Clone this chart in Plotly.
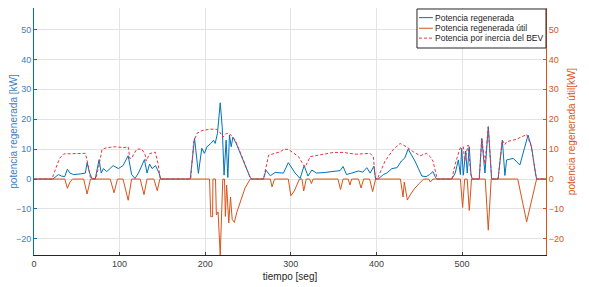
import plotly.graph_objects as go

# ---------------- data ----------------
t_reg = [0, 22, 28.5, 32, 36, 39, 42, 46, 54, 60, 62, 65, 68,
         71.5, 76, 78.5, 81, 85, 92.5, 98.5, 104, 110, 114, 118, 122, 129, 132, 135, 138, 142, 146, 148,
         182.5, 187.5, 192, 196, 199, 202, 206.6, 209.7, 211.6, 214.3, 217.5, 219.8, 222, 224.4, 226.4,
         228.3, 230.3, 232.3, 236.2, 240.8, 246.7, 252.5, 255,
         268, 271, 276, 281.7, 291.4, 297, 303, 305, 310.8, 315.5, 320, 324.5, 330, 334, 340, 348,
         357.5, 361, 365, 371, 379, 384, 388.7, 392.6, 397, 399,
         402, 408, 412, 418, 424, 429, 433, 437, 441, 445, 449, 453, 458, 462, 466, 469, 471,
         488, 492, 495.6, 498, 499.5, 501.4, 504.2, 506, 508.4, 510.4, 512,
         520, 523, 526.7, 530.6, 534.5, 542, 547, 550, 552, 559.7, 563, 567.5, 577, 581, 585.7, 587, 598]
p_reg = [0, 0, 1.5, 1, 0.8, 3.3, 2, 1.5, 1.7, 2, 5.5, 2, 0,
         0, 6.5, 2, 3.5, 2.5, 4.5, 3.5, 4.5, 7.8, 1.5, 0.2, 2, 6.5, 2, 5, 3.5, 4.5, 2, 0,
         0, 13.6, 1.9, 10.3, 8.6, 10.8, 11.9, 13, 11.9, 15.3, 25.5, 17.5, 1.3, 13, 0.5,
         14.7, 10.8, 14, 11.9, 8.6, 4.3, 0.5, 0,
         0, 3, 1.1, 2.2, 2, 5.5, 3, 2, 0.2, 4.5, 1, 3, 2, 2, 2.2, 2.5,
         2.8, 4.2, 1.5, 2, 2.7, 2.3, 3.8, 2, 4.3, 0,
         0, 1.5, 2, 3.5, 3.8, 6, 7, 10, 8, 6, 3.5, 1, 0.8, 1.5, 2.5, 0.5, 0,
         0, 2, 6.4, 1.5, 10.3, 1.3, 9.4, 2, 10.8, 1.3, 0,
         0, 13.6, 2, 17.5, 0, 0, 13, 1.2, 6.4, 6.9, 6, 4.7, 14.7, 10.8, 2, 0, 0]

t_util = [0, 36, 39, 42, 45, 58, 62, 66, 89, 93.5, 97.5, 104, 110, 114, 124, 128.5, 132, 140, 144, 147,
          205, 206.5, 208.6, 209, 212, 213, 215, 217.5, 220.5, 222.5, 223.5, 225, 227.5, 229.5, 231.5,
          234, 237, 241, 246.5, 252.5,
          276, 278, 281, 297, 300, 304, 310, 313, 315, 318, 322, 324, 326,
          355, 358, 361, 367, 369, 371, 379, 382, 385, 392, 395.5, 399,
          428, 431, 432.5, 436, 440, 445, 450, 455, 461, 463, 466,
          498, 500.6, 503, 506, 508.4, 511, 527, 530.6, 534, 565, 575.4, 587, 598]
p_util = [0, 0, -3.1, -1, 0, 0, -5, 0, 0, -4.6, 0, 0, -7.1, 0, 0, -5.2, 0, 0, -3.9, 0,
          0, -12.6, -12.6, 0, 0, -12, -11, -25.5, 0, 0, -12.5, -2, -14.7, -6, -13.5,
          -14.5, -11, -7.3, -3, 0,
          0, -2.6, 0, 0, -5.6, -4, 0, 0, -4, 0, 0, -1.5, 0,
          0, -3.5, 0, 0, -2, 0, 0, -3, 0, 0, -4.2, 0,
          0, -6, -1, -7, -5, -3, -1.5, 0, 0, -1, 0,
          0, -9.5, 0, 0, -10.5, 0, 0, -17.1, 0, 0, -14.3, 0, 0]

t_iner = [0, 21, 26, 30, 34.7, 45, 60, 63, 65.8, 72, 75.5, 79.5, 85, 95, 105, 110, 112, 114, 120, 126,
          130, 131, 135, 141.7, 145, 147.5,
          183, 186.5, 190.4, 196.2, 205.9, 213.7, 216.8, 220.7, 224.6, 229, 235, 240.8, 246.7, 253.3,
          268, 274, 287.5, 292, 297.2, 303, 309, 314, 316.7, 322.6, 334, 349.7, 361, 376, 392.5, 396.4, 398.4, 400,
          401, 410, 420, 427.6, 435, 443, 451, 458.7, 463, 466, 470, 471,
          488, 492, 497.5, 501.4, 503, 507, 510, 512,
          520, 523, 526.7, 530.6, 534.5, 542, 547, 550, 552, 563.7, 575.4, 581, 585.7, 587, 598]
p_iner = [0, 0, 4, 7, 8.4, 8.5, 8.6, 5, 0.5, 0, 4, 9.9, 10.5, 10.8, 10.5, 10.8, 6.8, 7, 10, 10,
          8, 6, 8.5, 9, 5, 0,
          0, 12.5, 15.3, 16.2, 16.7, 16.6, 15.8, 14, 15.3, 15, 13, 9, 4.5, 0,
          0, 8, 9.1, 10, 9.9, 8.6, 7.5, 5, 4, 7.5, 8, 8.9, 8.9, 8.3, 8.6, 7.4, 0.5, 0,
          0, 6, 10, 11.9, 10.8, 9.1, 7.8, 8.6, 7.4, 6, 1.3, 0,
          0, 5, 10.3, 10.8, 6, 11.4, 2, 0,
          0, 13.6, 5, 17.5, 0, 0, 13, 11.5, 12.5, 13.3, 14.9, 10.8, 2, 0, 0]

y_ticks = [-20, -10, 0, 10, 20, 30, 40, 50]
x_ticks = [0, 100, 200, 300, 400, 500]

names = ["Potencia regenerada", "Potencia regenerada útil", "Potencia por inercia del BEV"]

# ---------------- style ----------------
BLUE = "#0072BD"
ORANGE = "#D95319"
RED = "#EE3340"
FONT = "Liberation Sans, Arial, sans-serif"
YR = [-25.4, 57.2]
XR = [0, 598]

fig = go.Figure()
fig.add_trace(go.Scatter(x=t_reg, y=p_reg, mode="lines", name=names[0],
                         line=dict(color=BLUE, width=1), yaxis="y", showlegend=False))
fig.add_trace(go.Scatter(x=t_util, y=p_util, mode="lines", name=names[1],
                         line=dict(color=ORANGE, width=1), yaxis="y2", showlegend=False))
fig.add_trace(go.Scatter(x=t_iner, y=p_iner, mode="lines", name=names[2],
                         line=dict(color=RED, width=1, dash="3px,2px"), yaxis="y2", showlegend=False))

# the page body adds an 8px offset, so the figure is 8px smaller than the window
fig.update_layout(
    width=581, height=279,
    margin=dict(l=26, r=43, t=0, b=32),
    paper_bgcolor="white", plot_bgcolor="white",
    font=dict(family=FONT, size=9, color="#404040"),
    xaxis=dict(range=XR, tickvals=x_ticks, ticks="inside", ticklen=3, tickcolor="#404040",
               showline=True, linecolor="#262626", linewidth=1, mirror=True, automargin=False,
               showgrid=True, gridcolor="#E3E3E3", gridwidth=1, zeroline=False,
               tickfont=dict(size=9, color="#404040"),
               title=dict(text="tiempo [seg]", font=dict(size=10, color="#262626"), standoff=5)),
    yaxis=dict(range=YR, tickvals=y_ticks, ticks="inside", ticklen=3, tickcolor=BLUE,
               showline=True, linecolor=BLUE, linewidth=1, automargin=False,
               showgrid=True, gridcolor="#E3E3E3", gridwidth=1, zeroline=False,
               tickfont=dict(size=9, color="#3D7EC0"),
               title=dict(text="potencia regenerada [kW]", font=dict(size=10, color="#3D7EC0"), standoff=0)),
    yaxis2=dict(range=YR, tickvals=y_ticks, ticks="inside", ticklen=3, tickcolor=ORANGE,
                overlaying="y", side="right", automargin=False,
                showline=True, linecolor=ORANGE, linewidth=1,
                showgrid=False, zeroline=False,
                tickfont=dict(size=9, color=ORANGE),
                title=dict(text="potencia regenerada útil[kW]", font=dict(size=10, color=ORANGE), standoff=4)),
)

# ---------------- legend box (drawn in paper coordinates) ----------------
lx0, lx1 = 0.748, 1.0
ly0, ly1 = 0.838, 0.996
fig.add_shape(type="rect", xref="paper", yref="paper", x0=lx0, x1=lx1, y0=ly0, y1=ly1,
              line=dict(color="#262626", width=1), fillcolor="white", layer="above")
rows = [0.961, 0.918, 0.878]
styles = [dict(color=BLUE, width=1), dict(color=ORANGE, width=1), dict(color=RED, width=1, dash="3px,2px")]
for name, yy, st in zip(names, rows, styles):
    fig.add_shape(type="line", xref="paper", yref="paper", x0=0.752, x1=0.779, y0=yy, y1=yy,
                  line=st, layer="above")
    fig.add_annotation(xref="paper", yref="paper", x=0.780, y=yy, text=name, showarrow=False,
                       xanchor="left", yanchor="middle", font=dict(size=8.5, color="#1a1a1a"))

fig.write_html("out.html")
